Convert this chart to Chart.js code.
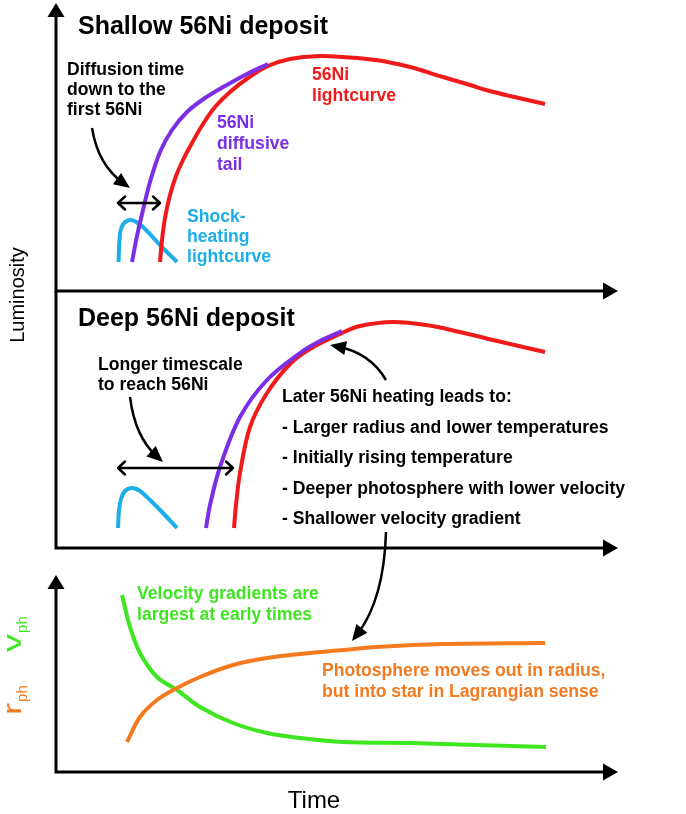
<!DOCTYPE html>
<html>
<head>
<meta charset="utf-8">
<script src="https://cdn.jsdelivr.net/npm/chart.js@4.4.1/dist/chart.umd.min.js"></script>
<style>
  html, body { margin: 0; padding: 0; background: #fff; }
  #wrap { position: relative; width: 686px; height: 814px; }
  #wrap canvas { position: absolute; left: 0; top: 0; }
</style>
</head>
<body>
<div id="wrap">
  <canvas id="shallow" width="686" height="814"></canvas>
  <canvas id="deep" width="686" height="814"></canvas>
  <canvas id="photo" width="686" height="814"></canvas>
</div>
<script>
'use strict';
// ─────────────────────────────────────────────
//  DATA  (time / luminosity in arbitrary units)
// ─────────────────────────────────────────────

// Shallow 56Ni deposit
const shallowShockT = [12.5, 12.7, 13.0, 13.8, 15.0, 16.4, 18.2, 20.8, 24.2];
const shallowShockL = [14.5, 25.5, 31.0, 34.5, 35.5, 34.0, 30.0, 23.0, 14.5];
const shallowTailT  = [15.2, 16.2, 17.4, 18.8, 20.8, 23.2, 26.2, 29.8, 33.8, 38.2, 42.4];
const shallowTailL  = [14.5, 27.5, 40.5, 54.5, 69.5, 80.5, 89.5, 96.5, 102.5, 108.5, 113.5];
const shallowNiT    = [20.8, 21.2, 21.8, 22.8, 24.0, 25.4, 27.2, 29.4, 31.8, 34.8, 38.4, 42.4, 46.8, 52.8, 57.4, 64.0, 70.8, 77.4, 82.8, 86.0, 90.8, 97.8];
const shallowNiL    = [14.5, 25.5, 36.5, 48.0, 57.5, 65.5, 74.0, 83.5, 92.0, 99.5, 106.5, 112.5, 116.0, 117.5, 117.0, 115.5, 112.0, 107.0, 103.0, 100.5, 97.5, 93.5];

// Deep 56Ni deposit
const deepShockT = [12.4, 12.6, 13.0, 13.8, 15.2, 16.8, 18.8, 21.4, 24.2];
const deepShockL = [10.0, 19.0, 24.5, 28.5, 30.0, 28.5, 24.0, 17.5, 10.0];
const deepTailT  = [30.0, 30.8, 32.8, 36.8, 42.2, 48.8, 52.8, 57.2];
const deepTailL  = [10.0, 21.5, 40.5, 65.5, 84.0, 97.5, 103.5, 108.5];
const deepNiT    = [35.6, 36.0, 36.8, 38.8, 42.2, 46.8, 50.8, 57.2, 60.8, 67.4, 74.0, 80.8, 87.4, 93.4, 97.8];
const deepNiL    = [10.0, 21.5, 37.5, 60.5, 77.5, 92.0, 99.5, 107.5, 111.0, 113.0, 111.5, 108.0, 104.0, 100.5, 98.0];

// Photosphere velocity and radius
const velT = [13.2, 14.8, 16.8, 20.2, 24.2, 28.8, 35.4, 42.2, 48.8, 57.4, 70.8, 84.0, 98.0];
const velV = [88.5, 72.5, 59.5, 47.5, 41.0, 32.5, 24.5, 19.5, 17.0, 15.0, 14.5, 13.5, 12.5];
const radT = [14.2, 16.8, 20.2, 24.2, 28.8, 35.4, 42.2, 48.8, 57.4, 64.0, 77.4, 97.8];
const radR = [15.0, 27.5, 36.0, 42.0, 47.5, 53.5, 57.0, 59.0, 61.0, 62.5, 64.0, 64.5];

const RED    = '#f01a1a';
const PURPLE = '#7a2fe6';
const CYAN   = '#1caee8';
const GREEN  = '#3ee620';
const ORANGE = '#f47a1f';
const INK    = '#000';

const PLAIN = '"Liberation Sans", Arial, sans-serif';
const BOLD  = 'bold 17.6px ' + PLAIN;
const TITLE = 'bold 25px ' + PLAIN;

const pts = (xs, ys) => xs.map((x, i) => ({ x, y: ys[i] }));

function series(xs, ys, color, order) {
  return {
    data: pts(xs, ys),
    borderColor: color,
    backgroundColor: 'transparent',
    borderWidth: 4,
    pointRadius: 0,
    tension: 0.35,
    borderCapStyle: 'butt',
    clip: false,
    order,
  };
}

// ─────────────────────────────────────────────
//  drawing helpers
// ─────────────────────────────────────────────
function head(ctx, tx, ty, fx, fy, len, half) {
  const a = Math.atan2(ty - fy, tx - fx);
  const c = Math.cos(a), s = Math.sin(a);
  ctx.beginPath();
  ctx.moveTo(tx, ty);
  ctx.lineTo(tx - len * c - half * s, ty - len * s + half * c);
  ctx.lineTo(tx - len * c + half * s, ty - len * s - half * c);
  ctx.closePath();
  ctx.fill();
}

function curvedArrow(ctx, a) {
  const ang = Math.atan2(a.tip[1] - a.ctrl[1], a.tip[0] - a.ctrl[0]);
  const ex = a.tip[0] - Math.cos(ang) * 8, ey = a.tip[1] - Math.sin(ang) * 8;
  ctx.strokeStyle = INK;
  ctx.fillStyle = INK;
  ctx.lineWidth = 2.5;
  ctx.beginPath();
  ctx.moveTo(a.from[0], a.from[1]);
  ctx.quadraticCurveTo(a.ctrl[0], a.ctrl[1], ex, ey);
  ctx.stroke();
  head(ctx, a.tip[0], a.tip[1], a.ctrl[0], a.ctrl[1], 16, 7);
}

function doubleArrow(ctx, x1, x2, y) {
  ctx.strokeStyle = INK;
  ctx.lineWidth = 2.5;
  ctx.lineCap = 'round';
  ctx.lineJoin = 'round';
  ctx.beginPath();
  ctx.moveTo(x1, y); ctx.lineTo(x2, y);
  ctx.moveTo(x1 + 7, y - 6.5); ctx.lineTo(x1, y); ctx.lineTo(x1 + 7, y + 6.5);
  ctx.moveTo(x2 - 7, y - 6.5); ctx.lineTo(x2, y); ctx.lineTo(x2 - 7, y + 6.5);
  ctx.stroke();
  ctx.lineCap = 'butt';
}

function lines(ctx, font, color, x, ys, texts) {
  ctx.font = font;
  ctx.fillStyle = color;
  ctx.textAlign = 'left';
  ctx.textBaseline = 'alphabetic';
  texts.forEach((t, i) => ctx.fillText(t, x, ys[i]));
}

function subLabel(ctx, x, y, main, sub, color) {
  ctx.save();
  ctx.translate(x, y);
  ctx.rotate(-Math.PI / 2);
  ctx.fillStyle = color;
  ctx.textAlign = 'left';
  ctx.textBaseline = 'alphabetic';
  ctx.save();
  ctx.scale(1.45, 1);
  ctx.font = '25px ' + PLAIN;
  ctx.fillText(main, 0, 0);
  const w = ctx.measureText(main).width * 1.45;
  ctx.restore();
  ctx.font = '15px ' + PLAIN;
  ctx.fillText(sub, w + 1, 6);
  ctx.restore();
}

// axes with arrow heads: the y axis arrow is optional (middle panel joins the top one)
const axesPlugin = {
  id: 'sketchAxes',
  afterDatasetsDraw(chart, args, opts) {
    const { ctx, chartArea: a } = chart;
    ctx.save();
    ctx.strokeStyle = INK;
    ctx.fillStyle = INK;
    ctx.lineWidth = 3;
    ctx.beginPath();
    ctx.moveTo(a.left, a.bottom + 1.5);
    ctx.lineTo(a.left, opts.yArrow ? a.top + 8 : a.top);
    ctx.moveTo(a.left - 1.5, a.bottom);
    ctx.lineTo(a.right - 6, a.bottom);
    ctx.stroke();
    head(ctx, a.right + 2, a.bottom, a.right - 20, a.bottom, 15, 8.5);
    if (opts.yArrow) head(ctx, a.left, a.top, a.left, a.top + 20, 14, 8.5);
    if (opts.decor) opts.decor(ctx, chart);
    ctx.restore();
  },
};

function makeChart(id, datasets, pad, yMax, plug) {
  return new Chart(document.getElementById(id), {
    type: 'line',
    data: { datasets },
    options: {
      responsive: false,
      animation: false,
      events: [],
      layout: { padding: pad },
      plugins: {
        legend: { display: false },
        tooltip: { enabled: false },
        sketchAxes: plug,
      },
      scales: {
        x: { type: 'linear', min: 0, max: 112, display: false },
        y: { type: 'linear', min: 0, max: yMax, display: false },
      },
    },
    plugins: [axesPlugin],
  });
}

// ─────────────────────────────────────────────
//  PANELS
// ─────────────────────────────────────────────
makeChart('shallow', [
  series(shallowTailT, shallowTailL, PURPLE, 0),
  series(shallowNiT, shallowNiL, RED, 1),
  series(shallowShockT, shallowShockL, CYAN, 2),
], { left: 56, right: 70, top: 3, bottom: 523 }, 144, {
  yArrow: true,
  decor(ctx) {
    lines(ctx, TITLE, INK, 78, [34], ['Shallow 56Ni deposit']);
    lines(ctx, BOLD, INK, 67, [75, 95, 115], ['Diffusion time', 'down to the', 'first 56Ni']);
    lines(ctx, BOLD, RED, 312, [80, 101], ['56Ni', 'lightcurve']);
    lines(ctx, BOLD, PURPLE, 217, [128, 149, 170], ['56Ni', 'diffusive', 'tail']);
    lines(ctx, BOLD, CYAN, 187, [222, 242, 262], ['Shock-', 'heating', 'lightcurve']);
    curvedArrow(ctx, { from: [92, 128], ctrl: [98, 165], tip: [130, 188] });
    doubleArrow(ctx, 118, 160, 203);

    ctx.save();
    ctx.translate(24, 295);
    ctx.rotate(-Math.PI / 2);
    ctx.font = '20px ' + PLAIN;
    ctx.fillStyle = INK;
    ctx.textAlign = 'center';
    ctx.textBaseline = 'alphabetic';
    ctx.fillText('Luminosity', 0, 0);
    ctx.restore();
  },
});

makeChart('deep', [
  series(deepTailT, deepTailL, PURPLE, 0),
  series(deepNiT, deepNiL, RED, 1),
  series(deepShockT, deepShockL, CYAN, 2),
], { left: 56, right: 70, top: 291, bottom: 266 }, 128.5, {
  yArrow: false,
  decor(ctx) {
    lines(ctx, TITLE, INK, 78, [326], ['Deep 56Ni deposit']);
    lines(ctx, BOLD, INK, 98, [370, 390], ['Longer timescale', 'to reach 56Ni']);
    lines(ctx, BOLD, INK, 282, [402, 433, 463, 494, 524], [
      'Later 56Ni heating leads to:',
      '- Larger radius and lower temperatures',
      '- Initially rising temperature',
      '- Deeper photosphere with lower velocity',
      '- Shallower velocity gradient',
    ]);
    curvedArrow(ctx, { from: [130, 397], ctrl: [135, 437], tip: [163, 462] });
    curvedArrow(ctx, { from: [386, 380], ctrl: [370, 353], tip: [330, 345] });
    doubleArrow(ctx, 118, 233, 468);
  },
});

makeChart('photo', [
  series(velT, velV, GREEN, 1),
  series(radT, radR, ORANGE, 0),
], { left: 56, right: 70, top: 575, bottom: 42 }, 98.5, {
  yArrow: true,
  decor(ctx) {
    lines(ctx, BOLD, GREEN, 137, [599, 620], ['Velocity gradients are', 'largest at early times']);
    lines(ctx, BOLD, ORANGE, 322, [676, 697], ['Photosphere moves out in radius,', 'but into star in Lagrangian sense']);
    curvedArrow(ctx, { from: [386, 532], ctrl: [384, 600], tip: [352, 641] });

    ctx.font = '24px ' + PLAIN;
    ctx.fillStyle = INK;
    ctx.textAlign = 'center';
    ctx.textBaseline = 'alphabetic';
    ctx.fillText('Time', 314, 808);

    subLabel(ctx, 21, 652, 'v', 'ph', GREEN);
    subLabel(ctx, 21, 715, 'r', 'ph', ORANGE);
  },
});
</script>
</body>
</html>
